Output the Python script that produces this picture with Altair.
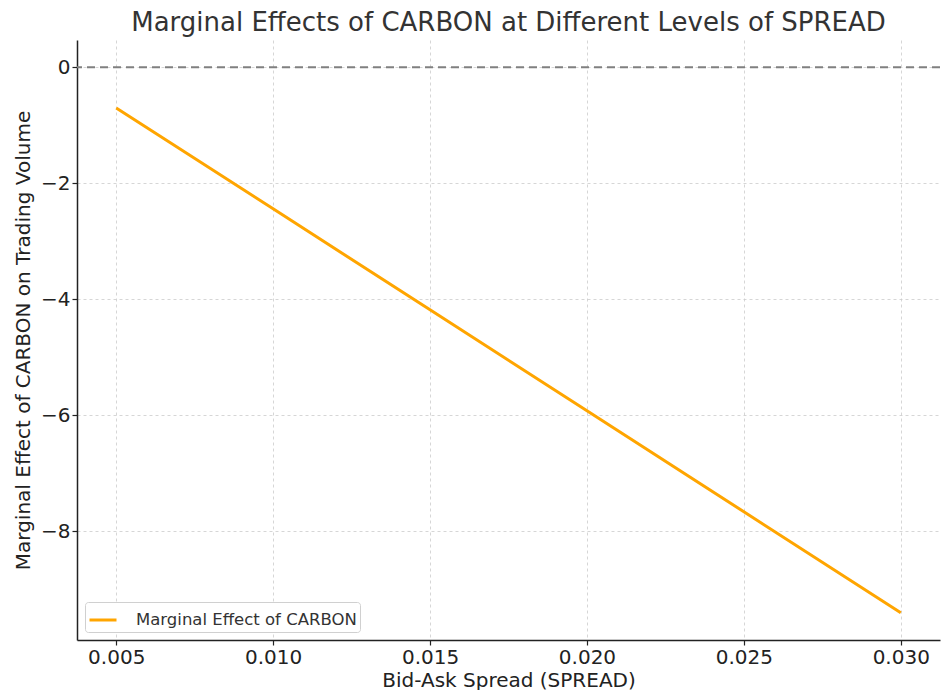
import altair as alt
import pandas as pd

spread = [0.005, 0.010, 0.015, 0.020, 0.025, 0.030]
effect = [-0.70, -2.44, -4.18, -5.92, -7.66, -9.40]
x_ticks = [0.005, 0.010, 0.015, 0.020, 0.025, 0.030]
y_ticks = [-8, -6, -4, -2, 0]
series_name = "Marginal Effect of CARBON"

df = pd.DataFrame({"spread": spread, "effect": effect, "series": series_name})
zero_df = pd.DataFrame({"y": [0]})

font = "DejaVu Sans"

x_scale = alt.Scale(domain=[0.00375, 0.03125], nice=False, zero=False)
y_scale = alt.Scale(domain=[-9.87, 0.47], nice=False, zero=False)

line = alt.Chart(df).mark_line(strokeWidth=3).encode(
    x=alt.X("spread:Q", scale=x_scale,
            axis=alt.Axis(values=x_ticks, format=".3f", title="Bid-Ask Spread (SPREAD)",
                          titlePadding=3)),
    y=alt.Y("effect:Q", scale=y_scale,
            axis=alt.Axis(values=y_ticks, format="d",
                          title="Marginal Effect of CARBON on Trading Volume",
                          titlePadding=7)),
    color=alt.Color("series:N", scale=alt.Scale(range=["#FFA500"]),
                    legend=alt.Legend(title=None, orient="bottom-left", offset=8,
                                      symbolType="stroke", symbolStrokeWidth=3,
                                      symbolSize=729, labelFontSize=16.5,
                                      labelFont=font, labelColor="#333333",
                                      labelLimit=400, labelOffset=18,
                                      fillColor="white", strokeColor="#d0d0d0",
                                      cornerRadius=3, padding=3)),
)

zero_line = alt.Chart(zero_df).mark_rule(
    color="#808080", strokeWidth=2, strokeDash=[8, 5]
).encode(y=alt.Y("y:Q", scale=y_scale))

chart = alt.layer(zero_line, line).properties(
    width=863,
    height=600,
    autosize=alt.AutoSizeParams(type="none"),
    padding={"left": 69, "top": 32, "right": 2, "bottom": 50},
    title=alt.Title("Marginal Effects of CARBON at Different Levels of SPREAD",
                    fontSize=26, font=font, fontWeight="normal", color="#333333",
                    anchor="middle", offset=4),
).configure_view(stroke=None).configure_axis(
    labelFont=font, titleFont=font, labelFontSize=20, titleFontSize=20,
    titleFontWeight="normal", labelColor="#222222", titleColor="#222222",
    domainColor="#222222", domainWidth=1.5, tickColor="#222222", tickSize=5,
    tickWidth=1.2, gridColor="#cccccc", gridDash=[3, 3], gridWidth=0.8,
    labelPadding=2,
)

chart.save("out.html", embed_options={"renderer": "svg", "actions": False})
